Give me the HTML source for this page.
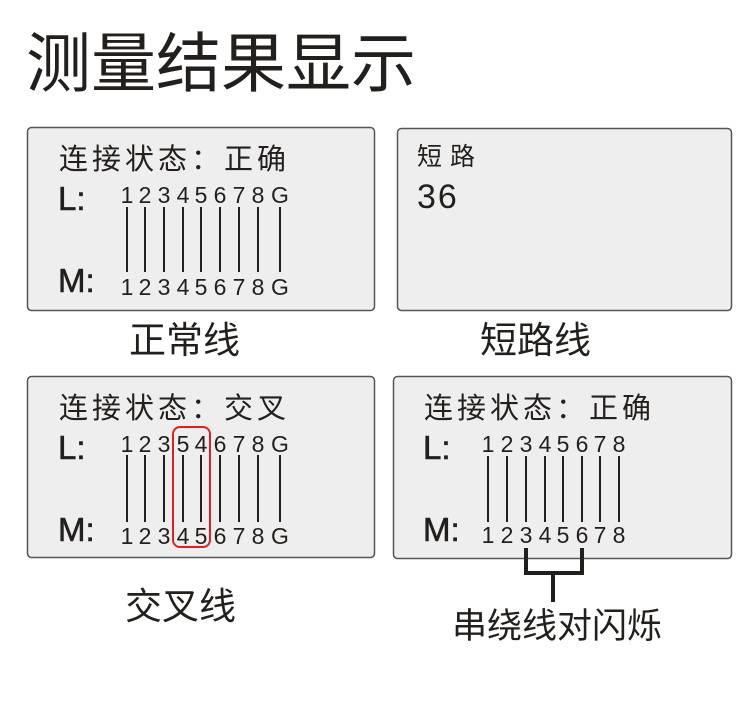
<!DOCTYPE html>
<html><head><meta charset="utf-8"><style>
html,body{margin:0;padding:0;background:#fff;width:750px;height:718px;overflow:hidden}
svg{display:block}
text{font-family:"Liberation Sans","Noto Sans CJK SC",sans-serif;fill:#231f1c}
.cj{font-family:"Noto Sans CJK SC","WenQuanYi Zen Hei",sans-serif}
.d{font-size:23px;text-anchor:middle}
.lb{font-size:33px;stroke:#231f1c;stroke-width:0.6}
.st{font-size:29px}
line.w{stroke:#231f1c;stroke-width:2}
</style></head><body>
<svg width="750" height="718" viewBox="0 0 750 718">
<text class="cj" x="26" y="86" font-size="65">测量结果显示</text>

<rect x="27.5" y="127.5" width="347" height="183" rx="4" fill="#eeeeee" stroke="#555" stroke-width="1.5"/>
<rect x="397.5" y="128.5" width="334" height="182" rx="4" fill="#eeeeee" stroke="#555" stroke-width="1.5"/>
<rect x="27.5" y="376.5" width="347" height="181" rx="4" fill="#eeeeee" stroke="#555" stroke-width="1.5"/>
<rect x="393.5" y="376.5" width="338" height="182" rx="4" fill="#eeeeee" stroke="#555" stroke-width="1.5"/>

<!-- box1 -->
<text class="cj st" x="59" y="169" letter-spacing="4">连接状态：正确</text>
<text class="lb" x="58" y="210">L:</text>
<text class="lb" x="58" y="292">M:</text>
<text class="d" x="127" y="203">1</text><text class="d" x="145" y="203">2</text><text class="d" x="164" y="203">3</text><text class="d" x="183" y="203">4</text><text class="d" x="201" y="203">5</text><text class="d" x="220" y="203">6</text><text class="d" x="239" y="203">7</text><text class="d" x="258" y="203">8</text><text class="d" x="280" y="203">G</text>
<text class="d" x="127" y="295">1</text><text class="d" x="145" y="295">2</text><text class="d" x="164" y="295">3</text><text class="d" x="183" y="295">4</text><text class="d" x="201" y="295">5</text><text class="d" x="220" y="295">6</text><text class="d" x="239" y="295">7</text><text class="d" x="258" y="295">8</text><text class="d" x="280" y="295">G</text>
<line class="w" x1="127" y1="207" x2="127" y2="272"/><line class="w" x1="145" y1="207" x2="145" y2="272"/><line class="w" x1="164" y1="207" x2="164" y2="272"/><line class="w" x1="183" y1="207" x2="183" y2="272"/><line class="w" x1="201" y1="207" x2="201" y2="272"/><line class="w" x1="220" y1="207" x2="220" y2="272"/><line class="w" x1="239" y1="207" x2="239" y2="272"/><line class="w" x1="258" y1="207" x2="258" y2="272"/><line class="w" x1="280" y1="207" x2="280" y2="272"/>
<text class="cj" x="129" y="353" font-size="37">正常线</text>

<!-- box2 -->
<text class="cj" x="417" y="165" font-size="25" letter-spacing="8">短路</text>
<text x="417" y="208" font-size="34" letter-spacing="2">36</text>
<text class="cj" x="480" y="353" font-size="37">短路线</text>

<!-- box3 -->
<text class="cj st" x="59" y="418" letter-spacing="4">连接状态：交叉</text>
<text class="lb" x="58" y="459">L:</text>
<text class="lb" x="58" y="541">M:</text>
<text class="d" x="127" y="452">1</text><text class="d" x="145" y="452">2</text><text class="d" x="164" y="452">3</text><text class="d" x="183" y="452">5</text><text class="d" x="201" y="452">4</text><text class="d" x="220" y="452">6</text><text class="d" x="239" y="452">7</text><text class="d" x="258" y="452">8</text><text class="d" x="280" y="452">G</text>
<text class="d" x="127" y="544">1</text><text class="d" x="145" y="544">2</text><text class="d" x="164" y="544">3</text><text class="d" x="183" y="544">4</text><text class="d" x="201" y="544">5</text><text class="d" x="220" y="544">6</text><text class="d" x="239" y="544">7</text><text class="d" x="258" y="544">8</text><text class="d" x="280" y="544">G</text>
<line class="w" x1="127" y1="455" x2="127" y2="522"/><line class="w" x1="145" y1="455" x2="145" y2="522"/><line class="w" x1="164" y1="455" x2="164" y2="522"/><line class="w" x1="183" y1="455" x2="183" y2="522"/><line class="w" x1="201" y1="455" x2="201" y2="522"/><line class="w" x1="220" y1="455" x2="220" y2="522"/><line class="w" x1="239" y1="455" x2="239" y2="522"/><line class="w" x1="258" y1="455" x2="258" y2="522"/><line class="w" x1="280" y1="455" x2="280" y2="522"/>
<rect x="173" y="427" width="37" height="120" rx="7" fill="none" stroke="#e0201e" stroke-width="2"/>
<text class="cj" x="125" y="619" font-size="37">交叉线</text>

<!-- box4 -->
<text class="cj st" x="424" y="418" letter-spacing="4">连接状态：正确</text>
<text class="lb" x="423" y="459">L:</text>
<text class="lb" x="423" y="541">M:</text>
<text class="d" x="488" y="452">1</text><text class="d" x="507" y="452">2</text><text class="d" x="526" y="452">3</text><text class="d" x="545" y="452">4</text><text class="d" x="563" y="452">5</text><text class="d" x="582" y="452">6</text><text class="d" x="600" y="452">7</text><text class="d" x="619" y="452">8</text>
<text class="d" x="488" y="543">1</text><text class="d" x="507" y="543">2</text><text class="d" x="526" y="543">3</text><text class="d" x="545" y="543">4</text><text class="d" x="563" y="543">5</text><text class="d" x="582" y="543">6</text><text class="d" x="600" y="543">7</text><text class="d" x="619" y="543">8</text>
<line class="w" x1="488" y1="456" x2="488" y2="522"/><line class="w" x1="507" y1="456" x2="507" y2="522"/><line class="w" x1="526" y1="456" x2="526" y2="522"/><line class="w" x1="545" y1="456" x2="545" y2="522"/><line class="w" x1="563" y1="456" x2="563" y2="522"/><line class="w" x1="582" y1="456" x2="582" y2="522"/><line class="w" x1="600" y1="456" x2="600" y2="522"/><line class="w" x1="619" y1="456" x2="619" y2="522"/>
<path d="M526 548 V573 H582 V548 M553 573 V602" fill="none" stroke="#231f1c" stroke-width="4"/>
<text class="cj" x="452" y="638" font-size="35">串绕线对闪烁</text>
</svg>
</body></html>
